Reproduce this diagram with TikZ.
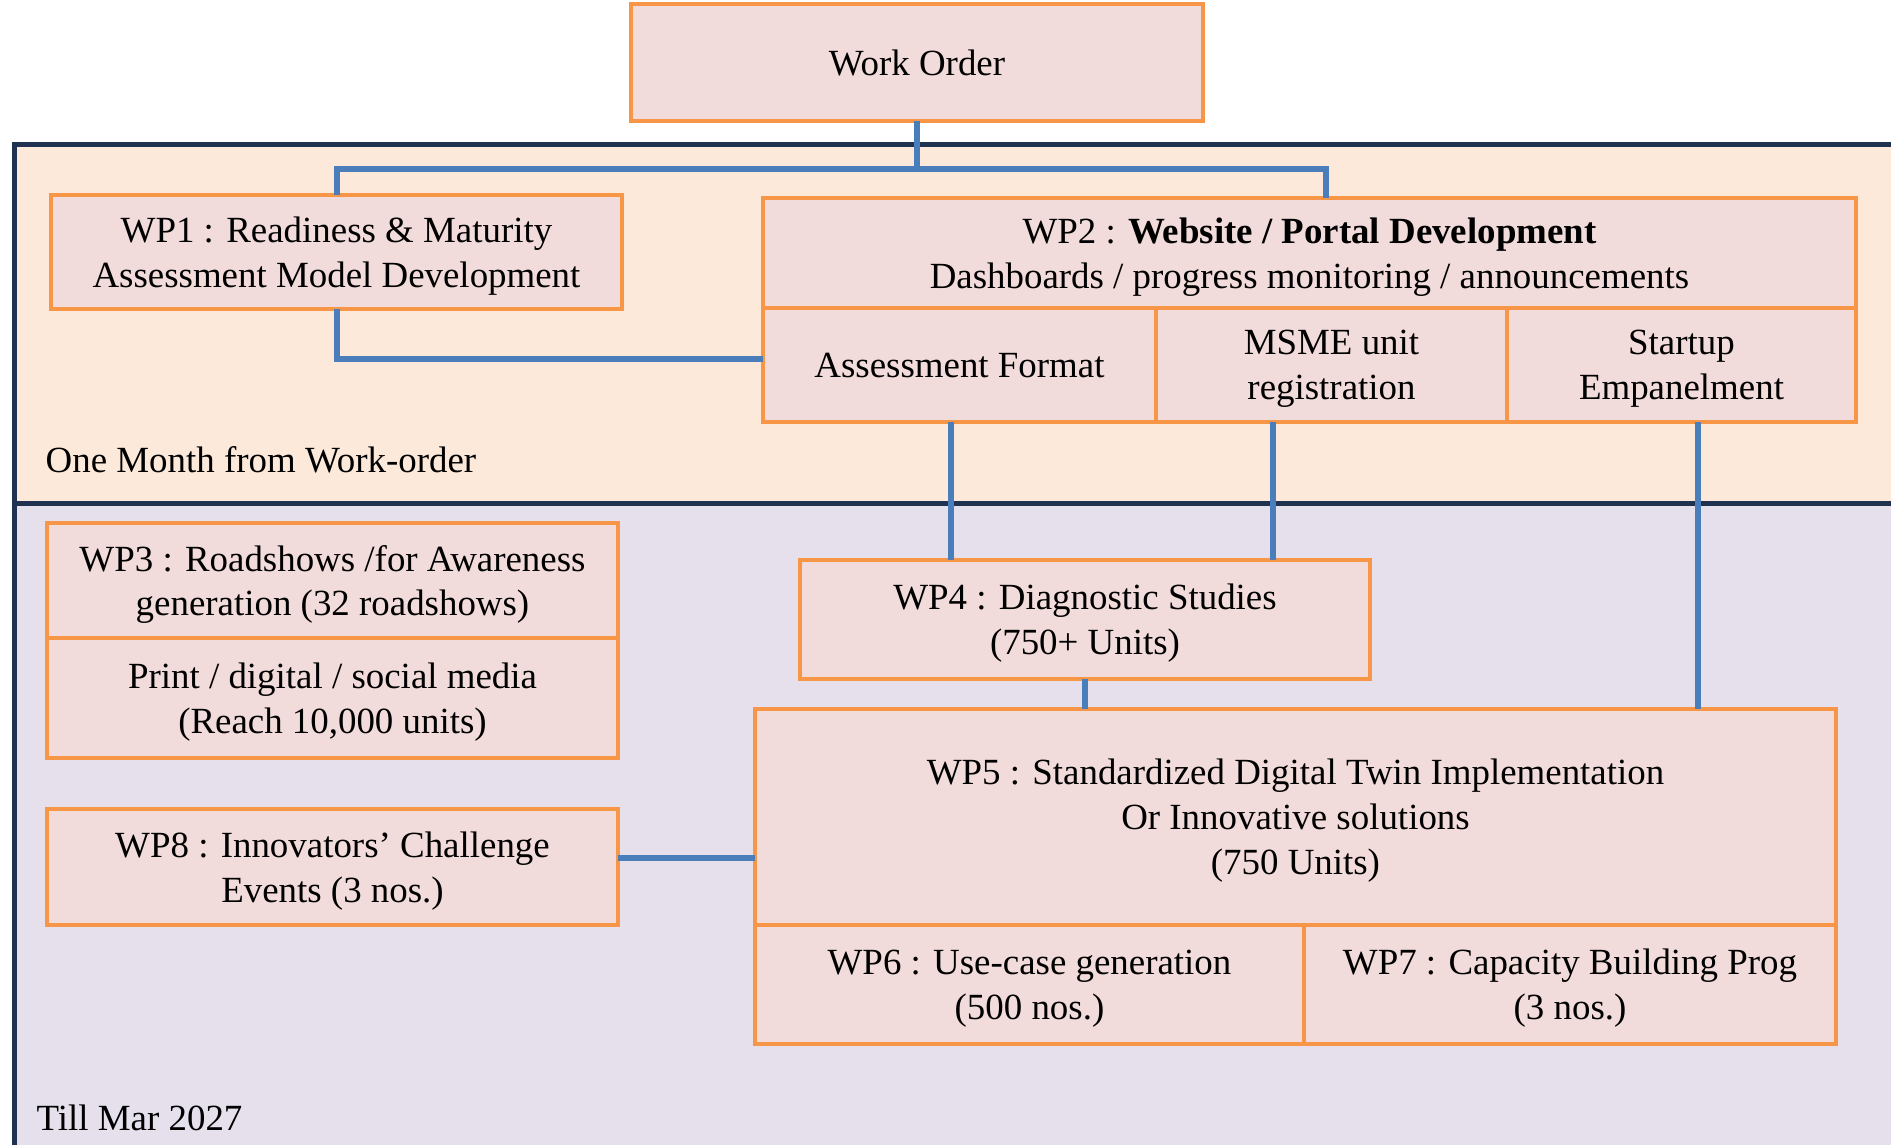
\documentclass[tikz,border=0pt]{standalone}
\usepackage{fontspec}
\setmainfont{Liberation Serif}
\usetikzlibrary{positioning, calc, backgrounds}

\definecolor{wpOrange}{HTML}{F79646}
\definecolor{wpFill}{HTML}{F2DCDB}
\definecolor{linkBlue}{HTML}{4A7EBB}
\definecolor{bandNavy}{HTML}{1F3350}
\definecolor{bandPeach}{HTML}{FDE9D9}
\definecolor{bandLilac}{HTML}{E5E0EC}

\begin{document}
\begin{tikzpicture}[
		x=0.1mm, y=-0.1mm,
		font=\fontsize{10.5}{12.8}\selectfont,
		% Style for the work package boxes
		wp/.style={draw=wpOrange, fill=wpFill, line width=0.4mm, align=center, inner sep=0pt, outer sep=0pt, text depth=-0.6pt},
		% Style for the blue connectors
		link/.style={draw=linkBlue, line width=0.6mm},
		% Time bands & their labels
		band/.style={draw=bandNavy, line width=0.5mm},
		band label/.style={anchor=west, inner sep=0pt}
		]
	\clip (0,0) rectangle (1891,1145);

	% ==============================================================================
	% BANDS
	% ==============================================================================
	\fill[bandPeach] (14,144) rectangle (1900,503);
	\fill[bandLilac] (14,503) rectangle (1900,1150);
	\draw[band] (1900,144) -- (14,144) -- (14,1150);
	\draw[band] (14,503) -- (1900,503);
	\node[band label] (month) at (45,460) {One Month from Work-order};
	\node[band label] (till) at (36,1118) {Till Mar 2027};

	% ==============================================================================
	% BOXES
	% ==============================================================================
	\node[wp, minimum width=57.2mm, minimum height=11.7mm] (order) at (917,62.5) {Work Order};

	% One month
	\node[wp, minimum width=57.1mm, minimum height=11.4mm] (wp1) at (336.5,252) {WP1 : Readiness \& Maturity\\Assessment Model Development};
	\node[wp, minimum width=109.3mm, minimum height=11.0mm] (wp2) at (1309.5,253) {WP2 : \textbf{Website / Portal Development}\\Dashboards / progress monitoring / announcements};
	\node[wp, minimum width=39.3mm, minimum height=11.4mm, below=0mm of wp2.south west, anchor=north west] (assess) {Assessment Format};
	\node[wp, minimum width=35.1mm, minimum height=11.4mm, right=0mm of assess] (msme) {MSME unit\\registration};
	\node[wp, minimum width=34.9mm, minimum height=11.4mm, right=0mm of msme] (startup) {Startup\\Empanelment};

	% Till Mar 2027
	\node[wp, minimum width=57.1mm, minimum height=11.5mm] (wp3) at (332.5,580.5) {WP3 : Roadshows /for Awareness\\generation (32 roadshows)};
	\node[wp, minimum width=57.1mm, minimum height=12.0mm, below=0mm of wp3] (media) {Print / digital / social media\\(Reach 10,000 units)};
	\node[wp, minimum width=57.1mm, minimum height=11.6mm] (wp8) at (332.5,867) {WP8 : Innovators’ Challenge\\Events (3 nos.)};
	\node[wp, minimum width=57.0mm, minimum height=11.9mm] (wp4) at (1085,619.5) {WP4 : Diagnostic Studies\\(750+ Units)};
	\node[wp, minimum width=108.1mm, minimum height=21.6mm] (wp5) at (1295.5,817) {WP5 : Standardized Digital Twin Implementation\\Or Innovative solutions\\(750 Units)};
	\node[wp, minimum width=54.9mm, minimum height=11.9mm, below=0mm of wp5.south west, anchor=north west] (wp6) {WP6 : Use-case generation\\(500 nos.)};
	\node[wp, minimum width=53.2mm, minimum height=11.9mm, right=0mm of wp6] (wp7) {WP7 : Capacity Building Prog\\(3 nos.)};

	% ==============================================================================
	% CONNECTORS
	% ==============================================================================
	\coordinate (bus) at (917,169);
	\draw[link] (order.south) -- (bus);
	\draw[link] (wp1.north) |- (bus) -| ([xshift=1.65mm]wp2.north);
	\draw[link] (wp1.south) |- ([yshift=0.6mm]assess.west);
	\draw[link] ([xshift=-0.9mm]assess.south) -- ([xshift=-0.9mm]assess.south |- wp4.north);
	\draw[link] ($(wp4.north west)!0.83!(wp4.north east)$) coordinate (c4) -- (c4 |- msme.south);
	\draw[link] ([xshift=1.65mm]startup.south) -- ([xshift=1.65mm]startup.south |- wp5.north);
	\draw[link] (wp4.south) -- (wp4.south |- wp5.north);
	\draw[link] ([yshift=0.9mm]wp8.east) -- ([yshift=0.9mm]wp8.east -| wp5.west);
\end{tikzpicture}
\end{document}
